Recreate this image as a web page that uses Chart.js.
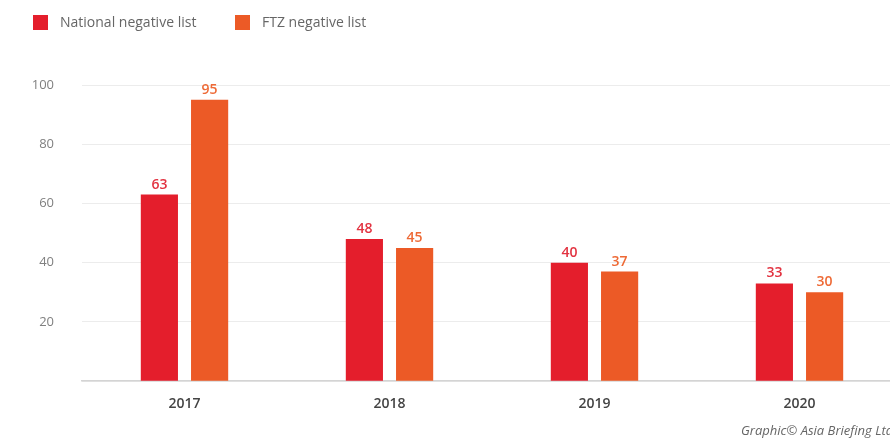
<!DOCTYPE html>
<html>
<head>
<meta charset="utf-8">
<script src="https://cdn.jsdelivr.net/npm/chart.js@4"></script>
<style>
  html, body { margin: 0; padding: 0; background: #fff; overflow: hidden; }
  #wrap { width: 902px; height: 440px; }
</style>
</head>
<body>
<div id="wrap"><canvas id="listChart"></canvas></div>
<script>
// values
const years = ['2017', '2018', '2019', '2020'];
const nationalList = [63, 48, 40, 33];
const ftzList = [95, 45, 37, 30];
const yTicks = [20, 40, 60, 80, 100];

const RED = '#e41e2c';
const ORANGE = '#ec5a26';

// values on top of bars
const barValues = {
    id: 'barValues',
    afterDatasetsDraw(chart) {
        const ctx = chart.ctx;
        ctx.save();
        ctx.font = '600 14px "Open Sans", sans-serif';
        ctx.textAlign = 'center';
        ctx.textBaseline = 'bottom';
        chart.data.datasets.forEach((ds, i) => {
            chart.getDatasetMeta(i).data.forEach((bar, j) => {
                ctx.fillStyle = i === 0 ? '#e23341' : '#ee6a36';
                ctx.fillText(ds.data[j], bar.x, bar.y - 3);
            });
        });
        ctx.restore();
    }
};

// legend row drawn by hand so the spacing matches
const legendRow = {
    id: 'legendRow',
    afterDraw(chart) {
        const ctx = chart.ctx;
        const xs = [33, 235];
        ctx.save();
        ctx.font = '14px "Open Sans", sans-serif';
        ctx.textBaseline = 'middle';
        chart.data.datasets.forEach((ds, i) => {
            ctx.fillStyle = ds.backgroundColor;
            ctx.fillRect(xs[i], 15, 15, 15);
            ctx.fillStyle = '#666';
            ctx.fillText(ds.label, xs[i] + 27, 23);
        });
        ctx.restore();
    }
};

// credit line at the bottom right
const credit = {
    id: 'credit',
    afterDraw(chart) {
        const ctx = chart.ctx;
        ctx.save();
        ctx.font = 'italic 13px "Open Sans", sans-serif';
        ctx.fillStyle = '#666';
        ctx.fillText('Graphic\u00a9 Asia Briefing Ltd', 741, 435);
        ctx.restore();
    }
};

new Chart(document.getElementById('listChart'), {
    type: 'bar',
    data: {
        labels: years,
        datasets: [
            { label: 'National negative list', data: nationalList, backgroundColor: RED },
            { label: 'FTZ negative list', data: ftzList, backgroundColor: ORANGE }
        ]
    },
    options: {
        responsive: true,
        maintainAspectRatio: false,
        animation: false,
        layout: { padding: { left: 23, right: 0, top: 85, bottom: 22 } },
        categoryPercentage: 0.49,
        barPercentage: 0.74,
        plugins: {
            legend: { display: false },
            tooltip: { enabled: false }
        },
        scales: {
            x: {
                grid: { display: false },
                border: { color: '#d4d4d4', width: 1.5 },
                ticks: {
                    color: '#444',
                    padding: 6,
                    font: { family: 'Open Sans', size: 14, weight: '600' }
                }
            },
            y: {
                min: 0,
                max: 100,
                afterFit(scale) { scale.width = 59; },
                afterBuildTicks(scale) {
                    scale.ticks = [0].concat(yTicks).map(v => ({ value: v }));
                },
                grid: { color: '#ececec', drawTicks: false },
                border: { display: false },
                ticks: {
                    padding: 28,
                    color: '#808080',
                    font: { family: 'Open Sans', size: 13 },
                    callback: v => (v === 0 ? '' : v)
                }
            }
        }
    },
    plugins: [barValues, legendRow, credit]
});
</script>
</body>
</html>
